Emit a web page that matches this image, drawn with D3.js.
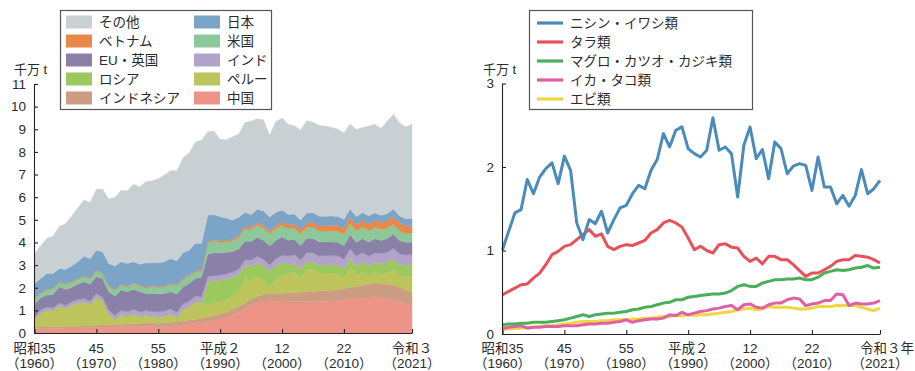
<!DOCTYPE html>
<html><head><meta charset="utf-8">
<script src="https://cdn.jsdelivr.net/npm/d3@7"></script>
<style>
body{margin:0;background:#fff;}
svg text{font-family:"Liberation Sans","Noto Sans CJK JP",sans-serif;fill:#2b2b2b;}
</style></head>
<body>
<script>
// ---------- DATA ----------
const years = [1960,1961,1962,1963,1964,1965,1966,1967,1968,1969,1970,1971,1972,1973,1974,1975,1976,1977,1978,1979,
1980,1981,1982,1983,1984,1985,1986,1987,1988,1989,1990,1991,1992,1993,1994,1995,1996,1997,1998,1999,
2000,2001,2002,2003,2004,2005,2006,2007,2008,2009,2010,2011,2012,2013,2014,2015,2016,2017,2018,2019,2020,2021];

const tickYears = [1960,1970,1980,1990,2000,2010,2021];
const tickEraL = ["昭和35","45","55","平成２","12","22","令和３"];
const tickEraR = ["昭和35","45","55","平成２","12","22","令和３年"];
const tickWest = ["（1960）","（1970）","（1980）","（1990）","（2000）","（2010）","（2021）"];

// left chart (千万t), stacked bottom -> top
const china = [0.20,0.20,0.20,0.21,0.21,0.22,0.22,0.22,0.23,0.23,0.24,0.25,0.26,0.27,0.28,0.28,0.29,0.29,0.30,0.30,
0.28,0.29,0.31,0.33,0.36,0.39,0.43,0.47,0.52,0.56,0.62,0.70,0.80,0.93,1.07,1.22,1.33,1.40,1.42,1.40,
1.38,1.38,1.38,1.38,1.39,1.39,1.39,1.40,1.41,1.43,1.46,1.48,1.50,1.53,1.55,1.57,1.53,1.48,1.43,1.38,1.31,1.24];
const indonesia = [0.07,0.07,0.07,0.07,0.08,0.08,0.08,0.08,0.09,0.09,0.10,0.10,0.10,0.11,0.11,0.12,0.12,0.13,0.14,0.15,
0.15,0.16,0.16,0.17,0.17,0.18,0.18,0.19,0.20,0.21,0.22,0.23,0.24,0.25,0.26,0.28,0.29,0.31,0.33,0.35,
0.38,0.40,0.41,0.42,0.44,0.45,0.46,0.47,0.48,0.50,0.51,0.53,0.55,0.58,0.61,0.65,0.66,0.67,0.69,0.65,0.59,0.54];
const peru = [0.31,0.63,0.75,0.69,0.91,0.77,0.94,1.03,1.05,0.93,1.23,1.07,0.47,0.22,0.41,0.35,0.44,0.31,0.34,0.29,
0.29,0.30,0.37,0.19,0.51,0.59,0.77,0.68,0.52,0.54,0.54,0.53,0.56,0.64,1.08,0.81,0.87,0.63,0.30,0.62,
0.80,0.83,0.90,0.65,0.99,0.95,0.79,0.78,0.75,0.68,0.48,0.87,0.50,0.59,0.39,0.45,0.40,0.48,0.66,0.50,0.61,0.72];
const russia = [0,0,0,0,0,0,0,0,0,0,0,0,0,0,0,0,0,0,0,0,
0,0,0,0,0,0,0,0,1.02,1.00,0.96,0.93,0.87,0.78,0.58,0.66,0.61,0.64,0.68,0.62,
0.55,0.42,0.38,0.37,0.34,0.36,0.36,0.37,0.37,0.39,0.40,0.42,0.43,0.44,0.42,0.44,0.48,0.49,0.51,0.50,0.49,0.51];
const india = [0.12,0.12,0.13,0.13,0.13,0.14,0.14,0.15,0.15,0.16,0.17,0.17,0.18,0.18,0.19,0.19,0.20,0.20,0.21,0.21,
0.22,0.22,0.23,0.23,0.24,0.24,0.25,0.25,0.22,0.22,0.22,0.22,0.22,0.23,0.25,0.26,0.28,0.28,0.27,0.29,
0.33,0.37,0.39,0.40,0.40,0.40,0.40,0.40,0.41,0.41,0.41,0.42,0.42,0.42,0.43,0.43,0.44,0.45,0.45,0.46,0.45,0.46];
const euUk = [0.58,0.54,0.53,0.60,0.71,0.72,0.63,0.68,0.74,0.75,0.75,0.82,0.81,0.85,0.91,0.88,0.88,0.89,0.76,0.80,
0.78,0.78,0.75,0.80,0.76,0.79,0.78,0.87,1.00,1.01,0.98,0.95,0.91,0.88,0.81,0.81,0.85,0.84,0.85,0.81,
0.81,0.70,0.67,0.65,0.63,0.63,0.62,0.61,0.60,0.60,0.59,0.62,0.60,0.61,0.62,0.62,0.58,0.60,0.63,0.60,0.56,0.54];
const usa = [0.22,0.19,0.22,0.24,0.19,0.23,0.22,0.22,0.24,0.22,0.26,0.22,0.24,0.24,0.23,0.22,0.25,0.26,0.22,0.30,
0.31,0.28,0.33,0.36,0.32,0.32,0.29,0.27,0.52,0.50,0.47,0.46,0.47,0.50,0.55,0.53,0.54,0.55,0.52,0.51,
0.52,0.51,0.51,0.49,0.48,0.50,0.49,0.48,0.48,0.48,0.50,0.50,0.51,0.50,0.50,0.51,0.48,0.47,0.44,0.42,0.38,0.40];
const vietnam = [0.03,0.03,0.03,0.03,0.03,0.03,0.03,0.03,0.03,0.03,0.03,0.03,0.03,0.03,0.03,0.03,0.04,0.04,0.04,0.04,
0.04,0.04,0.04,0.04,0.05,0.05,0.05,0.05,0.06,0.06,0.07,0.07,0.08,0.09,0.10,0.10,0.11,0.12,0.12,0.14,
0.15,0.17,0.18,0.19,0.20,0.21,0.22,0.23,0.25,0.26,0.27,0.27,0.28,0.29,0.30,0.30,0.31,0.33,0.35,0.35,0.34,0.34];
const japan = [0.66,0.63,0.70,0.66,0.59,0.62,0.70,0.74,0.87,0.87,0.88,0.93,0.98,1.06,0.99,1.00,0.93,0.92,1.09,1.01,
1.03,1.08,1.10,1.07,1.13,1.10,1.21,1.18,1.15,1.13,1.06,0.99,0.84,0.81,0.63,0.56,0.59,0.62,0.63,0.59,
0.51,0.46,0.44,0.44,0.44,0.43,0.43,0.42,0.42,0.40,0.40,0.37,0.36,0.36,0.36,0.34,0.32,0.31,0.32,0.31,0.32,0.32];
const others = [1.31,1.44,1.56,1.66,1.85,2.02,2.21,2.37,2.48,2.49,2.69,2.76,2.85,3.04,3.15,3.21,3.42,3.41,3.59,3.63,
3.71,3.83,3.88,3.98,4.20,4.29,4.48,4.56,3.68,3.69,3.41,3.46,3.68,3.67,3.97,4.13,4.00,4.03,3.62,4.01,
4.06,3.98,3.90,3.98,4.07,4.00,4.01,3.99,3.91,3.86,3.82,3.75,3.84,3.76,3.97,3.91,3.85,4.07,4.18,4.11,4.05,4.15];

const leftKeys  = ["中国","インドネシア","ペルー","ロシア","インド","EU・英国","米国","ベトナム","日本","その他"];
const leftVals  = [china,indonesia,peru,russia,india,euUk,usa,vietnam,japan,others];
const leftColors= ["#ee9388","#cc9d82","#bcc45b","#9cc95f","#b2a3cb","#8a80a8","#8dc89b","#e8894b","#7ba4c7","#c9d0d4"];
// legend layout (row-major, two columns)
const leftLegendOrder = ["その他","日本","ベトナム","米国","EU・英国","インド","ロシア","ペルー","インドネシア","中国"];

// right chart (千万t)
const herringSardine = [1.01,1.23,1.45,1.49,1.85,1.68,1.88,1.98,2.05,1.80,2.13,1.96,1.33,1.13,1.37,1.32,1.47,1.21,1.37,1.51,
1.54,1.68,1.78,1.74,1.96,2.09,2.40,2.24,2.44,2.48,2.22,2.16,2.12,2.20,2.59,2.20,2.24,2.16,1.64,2.26,
2.48,2.10,2.21,1.86,2.30,2.22,1.92,2.01,2.04,2.02,1.72,2.12,1.76,1.76,1.56,1.66,1.53,1.66,1.97,1.68,1.74,1.84];
const cod = [0.47,0.51,0.55,0.59,0.60,0.67,0.73,0.83,0.95,0.99,1.05,1.07,1.13,1.19,1.25,1.17,1.20,1.05,1.01,1.05,
1.07,1.06,1.09,1.12,1.21,1.25,1.33,1.36,1.33,1.28,1.15,1.01,1.05,1.00,0.97,1.07,1.08,1.04,1.03,0.93,
0.87,0.91,0.84,0.93,0.93,0.89,0.89,0.83,0.76,0.69,0.73,0.73,0.77,0.81,0.87,0.89,0.89,0.94,0.93,0.92,0.89,0.85];
const tuna = [0.11,0.12,0.12,0.13,0.13,0.14,0.14,0.14,0.15,0.16,0.17,0.19,0.21,0.23,0.21,0.23,0.24,0.25,0.25,0.26,
0.27,0.29,0.30,0.32,0.33,0.35,0.37,0.38,0.41,0.41,0.44,0.45,0.46,0.47,0.48,0.48,0.49,0.52,0.57,0.59,
0.57,0.57,0.61,0.63,0.65,0.65,0.66,0.66,0.67,0.65,0.65,0.68,0.73,0.75,0.77,0.76,0.77,0.79,0.80,0.82,0.79,0.80];
const squid = [0.07,0.08,0.09,0.10,0.07,0.08,0.08,0.09,0.09,0.09,0.10,0.10,0.10,0.11,0.12,0.12,0.13,0.13,0.14,0.15,
0.17,0.14,0.16,0.17,0.18,0.18,0.19,0.23,0.22,0.26,0.23,0.25,0.27,0.28,0.30,0.31,0.33,0.34,0.29,0.35,
0.36,0.32,0.31,0.35,0.37,0.37,0.41,0.43,0.42,0.34,0.36,0.37,0.40,0.40,0.48,0.47,0.34,0.37,0.36,0.36,0.37,0.40];
const shrimp = [0.05,0.06,0.07,0.07,0.08,0.08,0.09,0.10,0.10,0.11,0.12,0.13,0.14,0.15,0.15,0.15,0.16,0.16,0.17,0.17,
0.17,0.18,0.18,0.19,0.19,0.20,0.21,0.21,0.22,0.22,0.23,0.22,0.23,0.23,0.24,0.25,0.26,0.27,0.29,0.30,
0.31,0.29,0.30,0.33,0.32,0.32,0.32,0.31,0.30,0.30,0.31,0.33,0.33,0.33,0.34,0.34,0.34,0.34,0.32,0.30,0.28,0.31];
const rightNames  = ["ニシン・イワシ類","タラ類","マグロ・カツオ・カジキ類","イカ・タコ類","エビ類"];
const rightVals   = [herringSardine,cod,tuna,squid,shrimp];
const rightColors = ["#4a8bb9","#e8515a","#4bae5b","#df60a6","#f0d63f"];

const leftYTicks = [0,1,2,3,4,5,6,7,8,9,10,11];
const rightYTicks = [0,1,2,3];

// ---------- DRAW ----------
const svg = d3.select("body").append("svg").attr("width",915).attr("height",371);
const TXT = "#2b2b2b";

function styleAxis(g){
  g.selectAll("path.domain").attr("stroke","#222").attr("stroke-width",1.1);
  g.selectAll(".tick line").attr("stroke","#222").attr("stroke-width",1.1);
  g.selectAll(".tick text").attr("fill",TXT).attr("font-size",13.5)
    .attr("font-family","'Liberation Sans','Noto Sans CJK JP',sans-serif");
}

// ===== Left chart =====
const xL = d3.scaleLinear().domain([1960,2021]).range([34.5,412]);
const yL = d3.scaleLinear().domain([0,11]).range([333,84]);
const rows = years.map((yr,i)=>{const o={year:yr}; leftKeys.forEach((k,j)=>o[k]=leftVals[j][i]); return o;});
const stack = d3.stack().keys(leftKeys)(rows);
const area = d3.area().x(d=>xL(d.data.year)).y0(d=>yL(d[0])).y1(d=>yL(d[1]));
const gL = svg.append("g");
gL.selectAll("path.layer").data(stack).join("path").attr("class","layer")
  .attr("d",area).attr("fill",(d,i)=>leftColors[i]).attr("stroke",(d,i)=>leftColors[i]).attr("stroke-width",0.4);

const axYL = svg.append("g").attr("transform","translate(34,0)")
  .call(d3.axisLeft(yL).tickValues(leftYTicks).tickSize(-4).tickSizeOuter(0).tickPadding(8).tickFormat(d3.format("d")));
styleAxis(axYL);
const axXL = svg.append("g").attr("transform","translate(0,333)")
  .call(d3.axisBottom(xL).tickValues(tickYears).tickSize(-4).tickSizeOuter(0).tickFormat(""));
styleAxis(axXL);
svg.append("text").attr("x",14).attr("y",74).attr("font-size",13).text("千万 t");
const gLL = svg.append("g");
tickYears.forEach((yr,i)=>{
  gLL.append("text").attr("x",xL(yr)).attr("y",353).attr("text-anchor","middle").attr("font-size",13.5).text(tickEraL[i]);
  gLL.append("text").attr("x",xL(yr)).attr("y",368).attr("text-anchor","middle").attr("font-size",13.5).text(tickWest[i]);
});

// left legend
const lg = svg.append("g");
lg.append("rect").attr("x",60.5).attr("y",10.5).attr("width",211).attr("height",99)
  .attr("fill","#fff").attr("stroke","#555").attr("stroke-width",1.2);
leftLegendOrder.forEach((k,i)=>{
  const col=i%2, row=Math.floor(i/2);
  const x0 = col===0?66:194, yc = 22+row*19;
  lg.append("rect").attr("x",x0).attr("y",yc-6.5).attr("width",26).attr("height",13)
    .attr("fill",leftColors[leftKeys.indexOf(k)]);
  lg.append("text").attr("x",x0+33).attr("y",yc+5).attr("font-size",13.5).text(k);
});

// ===== Right chart =====
const xR = d3.scaleLinear().domain([1960,2021]).range([502.5,880]);
const yR = d3.scaleLinear().domain([0,3]).range([334,83.5]);
const line = d3.line().x((d,i)=>xR(years[i])).y(d=>yR(d));
const gR = svg.append("g");
const drawOrder=[4,3,2,1,0];
drawOrder.forEach(j=>{
  gR.append("path").attr("d",line(rightVals[j])).attr("fill","none")
    .attr("stroke",rightColors[j]).attr("stroke-width",3).attr("stroke-linejoin","round");
});
const axYR = svg.append("g").attr("transform","translate(502,0)")
  .call(d3.axisLeft(yR).tickValues(rightYTicks).tickSize(-4).tickSizeOuter(0).tickPadding(8).tickFormat(d3.format("d")));
styleAxis(axYR);
const axXR = svg.append("g").attr("transform","translate(0,334)")
  .call(d3.axisBottom(xR).tickValues(tickYears).tickSize(-4).tickSizeOuter(0).tickFormat(""));
styleAxis(axXR);
svg.append("text").attr("x",483).attr("y",74).attr("font-size",13).text("千万 t");
const gRL = svg.append("g");
tickYears.forEach((yr,i)=>{
  const dx = (i===tickYears.length-1)?7:0;
  gRL.append("text").attr("x",xR(yr)+dx).attr("y",353).attr("text-anchor","middle").attr("font-size",13.5).text(tickEraR[i]);
  gRL.append("text").attr("x",xR(yr)).attr("y",368).attr("text-anchor","middle").attr("font-size",13.5).text(tickWest[i]);
});

// right legend
const rg = svg.append("g");
rg.append("rect").attr("x",529.5).attr("y",10.5).attr("width",223).attr("height",99)
  .attr("fill","#fff").attr("stroke","#555").attr("stroke-width",1.2);
rightNames.forEach((n,i)=>{
  const yc = 23+i*19;
  rg.append("line").attr("x1",537).attr("x2",563).attr("y1",yc).attr("y2",yc)
    .attr("stroke",rightColors[i]).attr("stroke-width",3.2);
  rg.append("text").attr("x",570).attr("y",yc+5).attr("font-size",13.5).text(n);
});
</script>
</body></html>
